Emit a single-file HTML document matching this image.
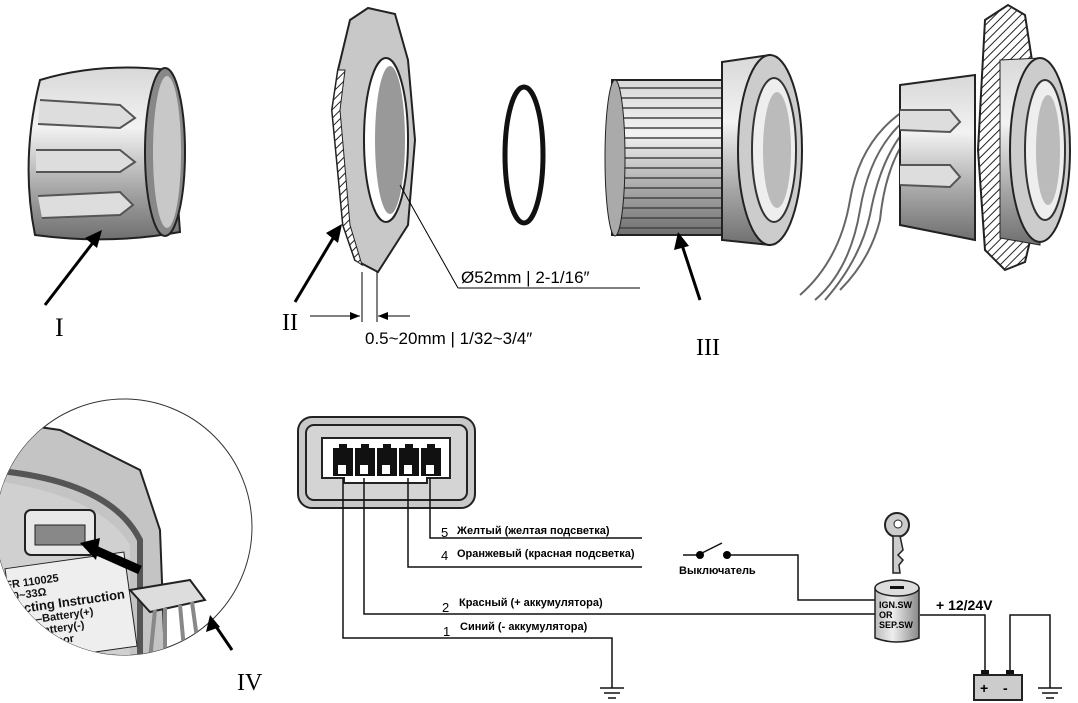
<!DOCTYPE html>
<html><head><meta charset="utf-8"><style>
html,body{margin:0;padding:0;background:#fff;}
svg{display:block;}
.t{font-family:"Liberation Sans",sans-serif;}
.r{font-family:"Liberation Serif",serif;}
</style></head><body>
<svg width="1078" height="703" viewBox="0 0 1078 703" xmlns="http://www.w3.org/2000/svg">
<defs>
<linearGradient id="cyl" x1="0" y1="0" x2="0" y2="1">
<stop offset="0" stop-color="#d8d8d8"/><stop offset="0.35" stop-color="#f2f2f2"/><stop offset="0.7" stop-color="#a8a8a8"/><stop offset="1" stop-color="#707070"/>
</linearGradient>
<linearGradient id="cylv" x1="0" y1="0" x2="1" y2="0">
<stop offset="0" stop-color="#bbb"/><stop offset="0.4" stop-color="#eee"/><stop offset="1" stop-color="#888"/>
</linearGradient>
<pattern id="hatch" width="6" height="6" patternUnits="userSpaceOnUse" patternTransform="rotate(45)">
<rect width="6" height="6" fill="#fff"/><line x1="0" y1="0" x2="0" y2="6" stroke="#222" stroke-width="2"/>
</pattern>
<clipPath id="circ"><circle cx="124" cy="527" r="128"/></clipPath>
</defs>

<!-- Part I -->
<path d="M40,80 Q100,62 168,70 L180,232 Q110,245 35,235 Q20,160 40,80 Z" fill="url(#cyl)" stroke="#222" stroke-width="2"/>
<g stroke="#555" stroke-width="2" fill="#ddd">
<path d="M40,100 L120,105 L135,118 L120,128 L38,124"/>
<path d="M36,150 L120,150 L135,162 L120,172 L36,172"/>
<path d="M38,196 L120,192 L133,205 L120,215 L42,218"/>
</g>
<ellipse cx="165" cy="152" rx="20" ry="84" fill="#888" stroke="#222" stroke-width="2"/>
<ellipse cx="167" cy="152" rx="14" ry="76" fill="#c8c8c8"/>
<line x1="45" y1="305" x2="95" y2="240" stroke="#000" stroke-width="3"/>
<polygon points="102,230 85,238 97,248" fill="#000"/>
<text x="55" y="336" class="r" font-size="26">I</text>

<!-- Part II plate -->
<path d="M350,20 L368,8 L395,14 L408,60 L415,140 L408,225 L378,272 L355,260 L343,225 L332,110 L338,70 Z" fill="#c8c8c8" stroke="#222" stroke-width="2"/>
<path d="M332,110 L343,225 L355,260 L362,265 L350,225 L340,110 L345,70 L338,70 Z" fill="url(#hatch)" stroke="#222"/>
<ellipse cx="386" cy="140" rx="22" ry="82" fill="#fff" stroke="#222" stroke-width="2"/>
<ellipse cx="390" cy="140" rx="15" ry="74" fill="#999"/>
<line x1="295" y1="302" x2="335" y2="235" stroke="#000" stroke-width="3"/>
<polygon points="342,224 326,233 338,243" fill="#000"/>
<text x="282" y="330" class="r" font-size="24">II</text>
<line x1="310" y1="316" x2="360" y2="316" stroke="#000"/><polygon points="360,316 350,312 350,320"/>
<line x1="378" y1="316" x2="410" y2="316" stroke="#000"/><polygon points="378,316 388,312 388,320"/>
<line x1="362" y1="272" x2="362" y2="322" stroke="#000"/><line x1="377" y1="272" x2="377" y2="322" stroke="#000"/>
<text x="365" y="344" class="t" font-size="17">0.5~20mm | 1/32~3/4″</text>
<line x1="400" y1="185" x2="458" y2="288" stroke="#000"/><line x1="458" y1="288" x2="640" y2="288" stroke="#000"/>
<text x="461" y="283" class="t" font-size="17">Ø52mm | 2-1/16″</text>

<!-- O-ring -->
<ellipse cx="524" cy="155" rx="19" ry="68" fill="none" stroke="#111" stroke-width="5"/>

<!-- Part III -->
<rect x="612" y="80" width="110" height="155" fill="url(#cyl)" stroke="#222" stroke-width="2"/>
<g stroke="#444" stroke-width="1.5">
<line x1="612" y1="88" x2="722" y2="88"/><line x1="612" y1="98" x2="722" y2="98"/><line x1="612" y1="108" x2="722" y2="108"/><line x1="612" y1="118" x2="722" y2="118"/><line x1="612" y1="128" x2="722" y2="128"/><line x1="612" y1="138" x2="722" y2="138"/><line x1="612" y1="148" x2="722" y2="148"/><line x1="612" y1="158" x2="722" y2="158"/><line x1="612" y1="168" x2="722" y2="168"/><line x1="612" y1="178" x2="722" y2="178"/><line x1="612" y1="188" x2="722" y2="188"/><line x1="612" y1="198" x2="722" y2="198"/><line x1="612" y1="208" x2="722" y2="208"/><line x1="612" y1="218" x2="722" y2="218"/><line x1="612" y1="228" x2="722" y2="228"/>
</g>
<ellipse cx="615" cy="158" rx="10" ry="78" fill="#aaa" stroke="#222"/>
<path d="M722,62 L770,55 L770,245 L722,240 Z" fill="url(#cyl)" stroke="#222" stroke-width="2"/>
<ellipse cx="770" cy="150" rx="32" ry="95" fill="#ccc" stroke="#222" stroke-width="2"/>
<ellipse cx="774" cy="150" rx="22" ry="72" fill="#eee" stroke="#333" stroke-width="2"/>
<ellipse cx="777" cy="150" rx="14" ry="58" fill="#bbb"/>
<line x1="700" y1="300" x2="682" y2="245" stroke="#000" stroke-width="3"/>
<polygon points="678,232 674,250 689,246" fill="#000"/>
<text x="696" y="355" class="r" font-size="24">III</text>

<!-- Assembled -->
<g fill="none" stroke="#666" stroke-width="2">
<path d="M905,110 Q860,140 850,200 Q840,260 800,295"/>
<path d="M905,120 Q870,150 860,210 Q850,270 815,300"/>
<path d="M905,130 Q880,160 870,215 Q860,260 825,300"/>
<path d="M905,140 Q885,170 880,220 Q870,260 840,290"/>
</g>
<path d="M900,85 L975,75 L975,240 L900,225 Z" fill="url(#cyl)" stroke="#222" stroke-width="2"/>
<g stroke="#555" stroke-width="2" fill="#ddd">
<path d="M900,110 L950,110 L960,122 L950,132 L900,130"/>
<path d="M900,165 L950,165 L960,177 L950,187 L900,185"/>
</g>
<path d="M985,20 L1008,5 L1025,15 L1035,80 L1035,220 L1025,262 L1005,270 L985,250 L978,150 Z" fill="url(#hatch)" stroke="#222" stroke-width="2"/>
<path d="M1000,60 L1040,58 L1040,245 L1000,238 Z" fill="url(#cyl)" stroke="#222"/>
<ellipse cx="1040" cy="150" rx="30" ry="92" fill="#ccc" stroke="#222" stroke-width="2"/>
<ellipse cx="1045" cy="150" rx="20" ry="70" fill="#eee" stroke="#333" stroke-width="2"/>
<ellipse cx="1048" cy="150" rx="12" ry="55" fill="#bbb"/>

<!-- Circle detail IV -->
<circle cx="124" cy="527" r="128" fill="#fff" stroke="#333" stroke-width="1"/>
<g clip-path="url(#circ)">
<path d="M-10,420 L60,430 L140,470 L160,530 L165,660 L-10,660 Z" fill="#c4c4c4" stroke="#222" stroke-width="2"/>
<path d="M-10,470 Q110,480 140,540 L140,660" fill="none" stroke="#555" stroke-width="6"/>
<path d="M-10,480 Q100,495 130,545 L130,660 L-10,660 Z" fill="#d0d0d0"/>
<rect x="25" y="510" width="70" height="45" rx="6" fill="#e8e8e8" stroke="#222" stroke-width="2"/>
<rect x="35" y="525" width="50" height="20" fill="#888" stroke="#222"/>
<rect x="10" y="560" width="120" height="95" fill="#eee" stroke="#222" transform="rotate(-8 70 600)"/>
<g class="t" font-size="11" font-weight="bold" fill="#111" transform="rotate(-8 70 600)">
<text x="8" y="580">FR 110025</text><text x="8" y="592">00~33Ω</text><text x="8" y="606" font-size="13">necting Instruction</text>
<text x="8" y="618">Red—Battery(+)</text><text x="8" y="630">ue—Battery(-)</text><text x="8" y="642">ck—Sensor</text><text x="8" y="654">—Red Light</text>
</g>
<path d="M130,590 L190,580 L205,600 L150,612 Z" fill="#ddd" stroke="#222" stroke-width="2"/>
<g fill="none" stroke="#888" stroke-width="4"><path d="M155,610 L150,660"/><path d="M165,608 L165,660"/><path d="M180,605 L185,660"/><path d="M192,602 L200,660"/></g>
<line x1="140" y1="570" x2="95" y2="550" stroke="#000" stroke-width="9"/>
<polygon points="80,543 100,538 96,560" fill="#000"/>
</g>
<line x1="232" y1="650" x2="215" y2="625" stroke="#000" stroke-width="3"/>
<polygon points="210,615 206,632 220,627" fill="#000"/>
<text x="237" y="690" class="r" font-size="24">IV</text>

<!-- Connector -->
<rect x="298" y="417" width="177" height="91" rx="14" fill="#c8c8c8" stroke="#222" stroke-width="2"/>
<rect x="306" y="425" width="161" height="75" rx="8" fill="#d4d4d4" stroke="#222" stroke-width="2"/>
<path d="M322,438 L450,438 L450,478 L427,478 L427,483 L344,483 L344,478 L322,478 Z" fill="#fff" stroke="#222" stroke-width="2"/>
<g fill="#111">
<rect x="333" y="448" width="20" height="28"/><rect x="355" y="448" width="20" height="28"/><rect x="377" y="448" width="20" height="28"/><rect x="399" y="448" width="20" height="28"/><rect x="421" y="448" width="20" height="28"/>
<rect x="339" y="444" width="8" height="6"/><rect x="361" y="444" width="8" height="6"/><rect x="383" y="444" width="8" height="6"/><rect x="405" y="444" width="8" height="6"/><rect x="427" y="444" width="8" height="6"/>
</g>
<g fill="#fff"><rect x="338" y="465" width="8" height="9"/><rect x="360" y="465" width="8" height="9"/><rect x="382" y="465" width="8" height="9"/><rect x="404" y="465" width="8" height="9"/><rect x="426" y="465" width="8" height="9"/></g>

<!-- Wires -->
<g fill="none" stroke="#111" stroke-width="1.5">
<polyline points="430,478 430,538 642,538"/>
<polyline points="408,478 408,567 642,567"/>
<polyline points="364,478 364,614 875,614"/>
<polyline points="343,478 343,638 612,638 612,688"/>
<polyline points="683,555 698,555"/><line x1="702" y1="553" x2="722" y2="543"/>
<polyline points="728,555 798,555 798,600 875,600"/>
<polyline points="920,615 985,615 985,676"/>
<polyline points="1010,676 1010,615 1050,615 1050,688"/>
<line x1="600" y1="688" x2="624" y2="688"/><line x1="604" y1="693" x2="620" y2="693"/><line x1="608" y1="698" x2="616" y2="698"/>
<line x1="1038" y1="688" x2="1062" y2="688"/><line x1="1042" y1="693" x2="1058" y2="693"/><line x1="1046" y1="698" x2="1054" y2="698"/>
</g>
<circle cx="700" cy="555" r="4"/><circle cx="727" cy="555" r="4"/>
<g class="t" font-size="11" font-weight="bold">
<text x="457" y="534">Желтый (желтая подсветка)</text>
<text x="457" y="557">Оранжевый (красная подсветка)</text>
<text x="459" y="606">Красный (+ аккумулятора)</text>
<text x="460" y="630">Синий (- аккумулятора)</text>
<text x="679" y="574">Выключатель</text>
</g>
<g class="t" font-size="13">
<text x="441" y="537">5</text><text x="441" y="560">4</text><text x="442" y="612">2</text><text x="443" y="636">1</text>
</g>

<!-- Key -->
<circle cx="897" cy="525" r="12" fill="#ccc" stroke="#222" stroke-width="2"/><circle cx="898" cy="524" r="4" fill="#fff" stroke="#222"/>
<path d="M893,536 L893,573 L900,573 L899,565 L903,560 L898,555 L903,550 L900,536 Z" fill="#ccc" stroke="#222" stroke-width="1.5"/>
<!-- Ignition cylinder -->
<path d="M875,588 L875,638 Q897,646 919,638 L919,588 Z" fill="url(#cylv)" stroke="#222" stroke-width="1.5"/>
<ellipse cx="897" cy="588" rx="22" ry="8" fill="#ddd" stroke="#222" stroke-width="1.5"/>
<rect x="890" y="586" width="14" height="3" fill="#111"/>
<g class="t" font-size="9" font-weight="bold"><text x="879" y="608">IGN.SW</text><text x="879" y="618">OR</text><text x="879" y="628">SEP.SW</text></g>
<text x="936" y="610" class="t" font-size="14" font-weight="bold">+ 12/24V</text>
<!-- Battery -->
<rect x="981" y="670" width="8" height="6" fill="#111"/><rect x="1006" y="670" width="8" height="6" fill="#111"/>
<rect x="974" y="675" width="48" height="25" fill="#ccc" stroke="#222" stroke-width="2"/>
<text x="980" y="693" class="t" font-size="14" font-weight="bold">+</text><text x="1003" y="693" class="t" font-size="14" font-weight="bold">-</text>
</svg>
</body></html>
